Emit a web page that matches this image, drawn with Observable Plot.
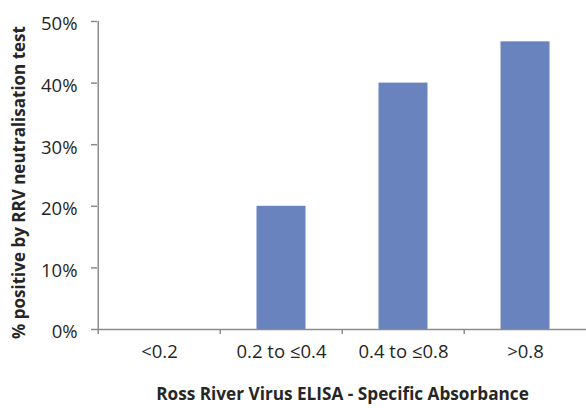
<!DOCTYPE html>
<html>
<head>
<meta charset="utf-8">
<script src="https://cdn.jsdelivr.net/npm/d3@7"></script>
<script src="https://cdn.jsdelivr.net/npm/@observablehq/plot@0.6"></script>
<style>
  html, body { margin: 0; padding: 0; background: #fff; }
  svg { display: block; }
</style>
</head>
<body>
<div id="chart"></div>
<script>
const categories = ["<0.2", "0.2 to ≤0.4", "0.4 to ≤0.8", ">0.8"];
const values = [0, 20, 40, 46.7];
const yTicks = [0, 10, 20, 30, 40, 50];
const xTitle = "Ross River Virus ELISA - Specific Absorbance";
const yTitle = "% positive by RRV neutralisation test";

const data = categories.map((c, i) => ({cat: c, val: values[i]}));

const W = 586, H = 408, ML = 97, MR = -1, MT = 21, MB = 79;
const step = (W - MR - ML) / categories.length;
const barW = 49.5;
const inset = (step - barW) / 2;
const axisColor = "#8c8c8c";
const textColor = "#262626";
const font = "'Open Sans', sans-serif";
const tickFont = 18.5;

const chart = Plot.plot({
  width: W,
  height: H,
  marginLeft: ML,
  marginRight: MR,
  marginTop: MT,
  marginBottom: MB,
  style: {fontFamily: font, fontSize: "18px", color: textColor, background: "#fff"},
  x: {domain: categories, padding: 0, axis: null},
  y: {domain: [0, 50], axis: null},
  marks: [
    Plot.barY(data, {x: "cat", y: "val", fill: "#6983bf", insetLeft: inset, insetRight: inset}),
    Plot.axisY({ticks: yTicks, tickSize: 6, tickFormat: () => "", label: null, stroke: axisColor, strokeWidth: 1.5}),
    Plot.text(yTicks, {y: d => d, text: d => d + "%", frameAnchor: "left", textAnchor: "end", dx: -20, dy: 3, fill: textColor, fontSize: tickFont}),
    Plot.ruleY([0], {stroke: axisColor, strokeWidth: 1.5}),
    Plot.ruleX(categories, {x: d => d, y1: () => -0.8, y2: (d, i) => i === 0 ? 50 : 0, dx: -step / 2, stroke: axisColor, strokeWidth: 1.5}),
    Plot.text(categories, {x: d => d, text: d => d, frameAnchor: "bottom", dy: 28.5, fill: textColor, fontSize: tickFont}),
    Plot.text([xTitle], {frameAnchor: "bottom", dy: 70, fontWeight: "bold", fill: textColor, fontSize: 17.2}),
    Plot.text([yTitle], {frameAnchor: "left", rotate: -90, textAnchor: "middle", lineAnchor: "middle", dx: -78, dy: 7, fontWeight: "bold", fill: textColor, fontSize: 17})
  ]
});
document.getElementById("chart").appendChild(chart);
</script>
</body>
</html>
